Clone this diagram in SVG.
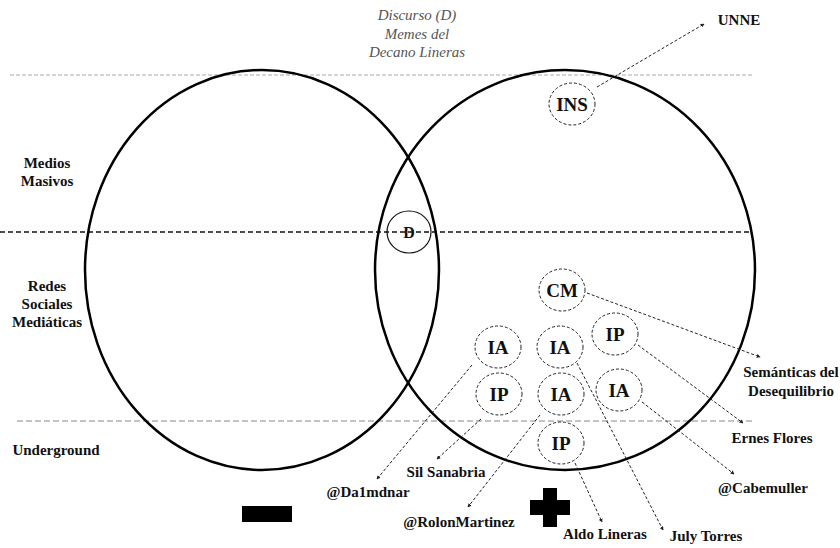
<svg xmlns="http://www.w3.org/2000/svg" width="840" height="548" viewBox="0 0 840 548">
<style>
.big{fill:none;stroke:#000;stroke-width:2.5}
.node{fill:#fff;stroke:#222;stroke-width:1;stroke-dasharray:3 2}
.lbl{font-family:"Liberation Serif",serif;font-weight:bold;fill:#111;text-anchor:middle}
.nl{font-size:19px}
.side{font-size:15px}
.ital{font-family:"Liberation Serif",serif;font-style:italic;font-size:15px;fill:#555;text-anchor:middle}
.con{fill:none;stroke:#222;stroke-width:1;stroke-dasharray:3 2;marker-end:url(#ah)}
</style>
<defs>
<marker id="ah" viewBox="0 0 6 6" refX="5" refY="3" markerWidth="4" markerHeight="4" orient="auto">
<path d="M0,0 L6,3 L0,6 z" fill="#222"/>
</marker>
</defs>
<rect width="840" height="548" fill="#fff"/>
<g id="bands">
<line x1="10" y1="75" x2="752" y2="75" stroke="#aaa" stroke-width="1" stroke-dasharray="4 2"/>
<line x1="0" y1="232" x2="752" y2="232" stroke="#111" stroke-width="1.5" stroke-dasharray="5 3"/>
<line x1="17" y1="421" x2="752" y2="421" stroke="#888" stroke-width="1" stroke-dasharray="6 3"/>
</g>
<g id="circles">
<ellipse class="big" cx="262" cy="270" rx="177" ry="200"/>
<ellipse class="big" cx="565" cy="270" rx="190" ry="200"/>
</g>
<g id="title">
<text class="ital" x="417" y="20">Discurso (D)</text>
<text class="ital" x="417" y="39">Memes del</text>
<text class="ital" x="417" y="57">Decano Lineras</text>
</g>
<g id="side-labels">
<text class="lbl side" x="47" y="168">Medios</text>
<text class="lbl side" x="47" y="186">Masivos</text>
<text class="lbl side" x="47" y="291">Redes</text>
<text class="lbl side" x="47" y="309">Sociales</text>
<text class="lbl side" x="47" y="327">Mediáticas</text>
<text class="lbl side" x="56" y="455">Underground</text>
</g>
<g id="connectors">
<line class="con" x1="597" y1="87" x2="704" y2="24"/>
<line class="con" x1="587" y1="293" x2="760" y2="357"/>
<line class="con" x1="638" y1="345" x2="743" y2="423"/>
<line class="con" x1="642" y1="402" x2="734" y2="474"/>
<line class="con" x1="577" y1="363" x2="663" y2="530"/>
<line class="con" x1="575" y1="463" x2="602" y2="522"/>
<line class="con" x1="540" y1="415" x2="468" y2="507"/>
<line class="con" x1="481" y1="419" x2="437" y2="459"/>
<line class="con" x1="472" y1="365" x2="377" y2="479"/>
</g>
<g id="node-INS"><ellipse class="node" cx="572" cy="104" rx="23" ry="21"/><text class="lbl nl" x="572" y="111">INS</text></g>
<g id="node-D"><ellipse cx="409" cy="232" rx="22" ry="21" fill="none" stroke="#111" stroke-width="1.2"/><text class="lbl" x="409" y="238" font-size="16px">D</text></g>
<g id="node-CM"><ellipse class="node" cx="562" cy="290" rx="23" ry="21"/><text class="lbl nl" x="562" y="297">CM</text></g>
<g id="node-IA1"><ellipse class="node" cx="498" cy="347" rx="23" ry="21"/><text class="lbl nl" x="498" y="354">IA</text></g>
<g id="node-IA2"><ellipse class="node" cx="560" cy="347" rx="23" ry="21"/><text class="lbl nl" x="560" y="354">IA</text></g>
<g id="node-IP1"><ellipse class="node" cx="615" cy="334" rx="23" ry="21"/><text class="lbl nl" x="615" y="341">IP</text></g>
<g id="node-IP2"><ellipse class="node" cx="499" cy="394" rx="23" ry="21"/><text class="lbl nl" x="499" y="401">IP</text></g>
<g id="node-IA3"><ellipse class="node" cx="561" cy="394" rx="23" ry="21"/><text class="lbl nl" x="561" y="401">IA</text></g>
<g id="node-IA4"><ellipse class="node" cx="619" cy="390" rx="23" ry="21"/><text class="lbl nl" x="619" y="397">IA</text></g>
<g id="node-IP3"><ellipse class="node" cx="561" cy="443" rx="23" ry="21"/><text class="lbl nl" x="561" y="450">IP</text></g>
<g id="labels">
<text class="lbl side" x="739" y="25">UNNE</text>
<text class="lbl side" x="791" y="377">Semánticas del</text>
<text class="lbl side" x="791" y="396">Desequilibrio</text>
<text class="lbl side" x="772" y="443">Ernes Flores</text>
<text class="lbl side" x="763" y="493">@Cabemuller</text>
<text class="lbl side" x="706" y="541">July Torres</text>
<text class="lbl side" x="605" y="539">Aldo Lineras</text>
<text class="lbl side" x="459" y="527">@RolonMartinez</text>
<text class="lbl side" x="446" y="477">Sil Sanabria</text>
<text class="lbl side" x="368" y="497">@Da1mdnar</text>
</g>
<g id="signs">
<rect x="242" y="506" width="50" height="16" fill="#000"/>
<path d="M543,488 H557 V500 H570 V515 H557 V527 H543 V515 H530 V500 H543 Z" fill="#000"/>
</g>
</svg>
